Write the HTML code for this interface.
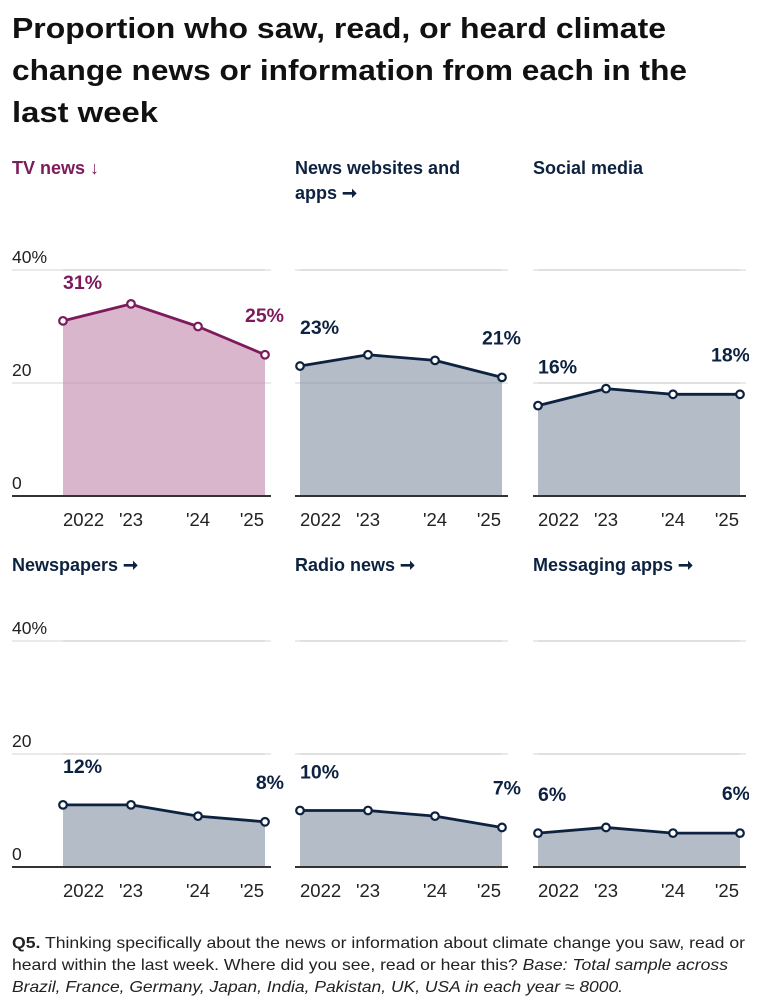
<!DOCTYPE html>
<html><head><meta charset="utf-8">
<style>
html,body{margin:0;padding:0;background:#fff;}
svg{display:block;font-family:"Liberation Sans",sans-serif;}
</style></head>
<body>
<svg id="chart" width="760" height="1000" viewBox="0 0 760 1000" xmlns="http://www.w3.org/2000/svg">
  <defs><clipPath id="clipR"><rect x="0" y="0" width="749" height="1000"/></clipPath></defs>
  <g font-weight="bold" font-size="29" fill="#111">
    <text x="12" y="38" textLength="654" lengthAdjust="spacingAndGlyphs">Proportion who saw, read, or heard climate</text>
    <text x="12" y="80" textLength="675" lengthAdjust="spacingAndGlyphs">change news or information from each in the</text>
    <text x="12" y="122" textLength="146" lengthAdjust="spacingAndGlyphs">last week</text>
  </g>
  <g id="panels" clip-path="url(#clipR)"></g>
  <g font-size="16" fill="#222">
    <text x="12" y="948" textLength="733" lengthAdjust="spacingAndGlyphs"><tspan font-weight="bold">Q5.</tspan> Thinking specifically about the news or information about climate change you saw, read or</text>
    <text x="12" y="970" textLength="716" lengthAdjust="spacingAndGlyphs">heard within the last week. Where did you see, read or hear this? <tspan font-style="italic">Base: Total sample across</tspan></text>
    <text x="12" y="992" textLength="611" lengthAdjust="spacingAndGlyphs" font-style="italic">Brazil, France, Germany, Japan, India, Pakistan, UK, USA in each year ≈ 8000.</text>
  </g>
</svg>
<script>
const years = ["2022", "'23", "'24", "'25"];
const panelTitles = [["TV news ↓"], ["News websites and", "apps ➞"], ["Social media"], ["Newspapers ➞"], ["Radio news ➞"], ["Messaging apps ➞"]];
const tvValues = [31, 34, 30, 25];
const websiteValues = [23, 25, 24, 21];
const socialValues = [16, 19, 18, 18];
const newspaperValues = [11, 11, 9, 8];
const radioValues = [10, 10, 9, 7];
const messagingValues = [6, 7, 6, 6];
const firstLabels = ["31%", "23%", "16%", "12%", "10%", "6%"];
const lastLabels = ["25%", "21%", "18%", "8%", "7%", "6%"];
const yTicks = [0, 20, 40];
const yTickLabels = ["0", "20", "40%"];

const series = [tvValues, websiteValues, socialValues, newspaperValues, radioValues, messagingValues];
const NS = "http://www.w3.org/2000/svg";
const root = document.getElementById("panels");
function mk(tag, attrs, parent) {
  const e = document.createElementNS(NS, tag);
  for (const k in attrs) e.setAttribute(k, attrs[k]);
  parent.appendChild(e);
  return e;
}
const colOffsets = [0, 237, 475];
const rowBase = [496, 867];
const rowHead = [174, 571];
const pxPer = 5.65;
series.forEach((vals, i) => {
  const r = Math.floor(i / 3), c = i % 3;
  const off = colOffsets[c];
  const base = rowBase[r];
  const purple = i === 0;
  const lineCol = purple ? "#7d1a5c" : "#0d2240";
  const fillCol = purple ? "#dab6cd" : "#b3bcc7";
  const g = mk("g", {}, root);
  
  
  const xPos = [off + 63, off + 131, off + 198, off + 265];
  const xOf = k => xPos[k];
  const yOf = v => base - v * pxPer;
  const axisLeft = c === 0 ? 12 : off + 58;
  const axisRight = off + 271;
  panelTitles[i].forEach((t, li) => {
    const ht = mk("text", {x: c === 0 ? 12 : off + 58, y: rowHead[r] + li * 25, "font-size": 18, "font-weight": "bold", fill: lineCol}, g);
    
    
    ht.textContent = t;
  });
  yTicks.forEach((t) => {
    if (t === 0) return;
    const gl = mk("line", {x1: axisLeft, x2: axisRight, y1: yOf(t), y2: yOf(t), stroke: "#e4e4e4", "stroke-width": 1.5}, g);
    
    
  });
  let d = "M" + xOf(0) + "," + base;
  vals.forEach((v, k) => d += " L" + xOf(k) + "," + yOf(v));
  d += " L" + xOf(3) + "," + base + " Z";
  const area = mk("path", {d: d, fill: fillCol}, g);
  
  
  yTicks.forEach((t) => {
    if (t === 0) return;
    const gl = mk("line", {x1: xOf(0), x2: xOf(3), y1: yOf(t), y2: yOf(t), stroke: "#000", "stroke-opacity": 0.06, "stroke-width": 1.5}, g);
    
    
  });
  if (c === 0) {
    yTicks.forEach((t, ti) => {
      const tl = mk("text", {x: 12, y: yOf(t) - 7, "font-size": 17.5, fill: "#222"}, g);
      
      
      tl.textContent = yTickLabels[ti];
    });
  }
  const bl = mk("line", {x1: axisLeft, x2: axisRight, y1: base, y2: base, stroke: "#333", "stroke-width": 2}, g);
  
  
  const pts = vals.map((v, k) => xOf(k) + "," + yOf(v)).join(" ");
  const pl = mk("polyline", {points: pts, fill: "none", stroke: lineCol, "stroke-width": 2.8, "stroke-linejoin": "round"}, g);
  
  
  vals.forEach((v, k) => {
    const ci = mk("circle", {cx: xOf(k), cy: yOf(v), r: 3.8, fill: "#fff", stroke: lineCol, "stroke-width": 2.2}, g);
    
    
  });
  const l1 = mk("text", {x: xOf(0), y: yOf(vals[0]) - 32, "font-size": 19.5, "font-weight": "bold", fill: lineCol}, g);
  
  
  l1.textContent = firstLabels[i];
  const l2 = mk("text", {x: Math.min(xOf(3) + 19, 750), y: yOf(vals[3]) - 33, "font-size": 19.5, "font-weight": "bold", fill: lineCol, "text-anchor": "end"}, g);
  
  
  l2.textContent = lastLabels[i];
  const anchors = ["start", "middle", "middle", "end"];
  const xl = [xOf(0), xOf(1), xOf(2), xOf(3) - 1];
  years.forEach((yr, k) => {
    const t = mk("text", {x: xl[k], y: base + 30, "font-size": 18.5, fill: "#222", "text-anchor": anchors[k]}, g);
    
    
    t.textContent = yr;
  });
});
</script>
</body></html>
